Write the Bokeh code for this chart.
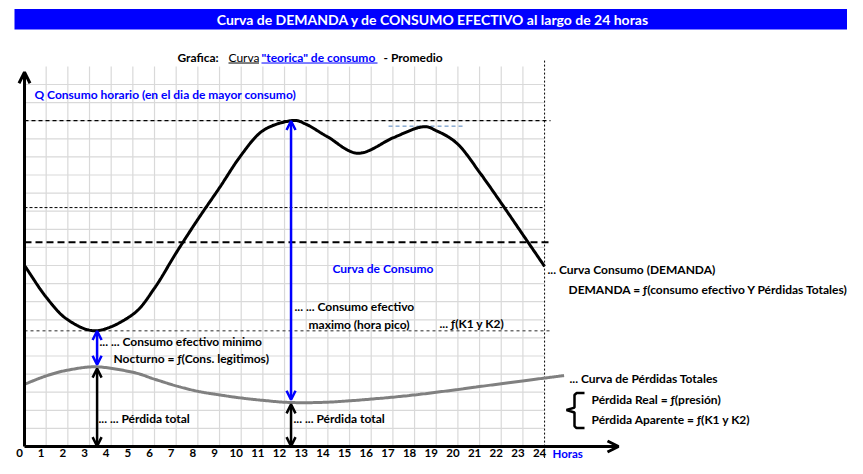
import numpy as np
from bokeh.plotting import figure
from bokeh.models import Arrow, OpenHead
from bokeh.core.properties import value
from bokeh.embed import file_html
from bokeh.resources import INLINE

# ---------------- data ----------------
HOURS_DEM = [0, 1, 2, 3.35, 5, 6, 7, 8, 9, 10, 11, 12.3, 13, 14, 15.4, 17, 18.3, 19, 20, 21, 22, 23, 24]
Q_DEM = [10.0, 8.25, 7.0, 6.4, 7.3, 8.75, 10.7, 12.55, 14.3, 16.1, 17.45, 18.0, 17.8, 17.1, 16.2,
         17.05, 17.65, 17.45, 16.7, 15.15, 13.45, 11.7, 9.95]
HOURS_LOSS = [0, 1, 2, 3.35, 5, 6, 7, 8, 9, 10, 11, 12.3, 14, 16, 18, 20, 22, 24, 24.9]
Q_LOSS = [3.44, 3.9, 4.22, 4.4, 4.1, 3.72, 3.35, 3.05, 2.85, 2.68, 2.55, 2.43, 2.45, 2.62, 2.85,
          3.15, 3.47, 3.78, 3.92]
TICK_HOURS = list(range(25))
TICK_LABELS = [str(h) for h in TICK_HOURS]
NIGHT_HOUR = 3.35
PEAK_HOUR = 12.3
LEVEL_K = 13.2
LEVEL_MID = 11.28
PEAK2_SPAN = [16.8, 20.26]
PEAK2_LEVEL = 17.7

# ---------------- layout ----------------
W, H = 847, 458
PXH = 21.67          # px per hour
PXQ = 18.1           # px per Q unit
X0 = 24              # canvas px of hour 0
Y0 = 446             # canvas px (from top) of Q = 0


def RX(px):   # reference x -> hours
    return (px - 24) / 21.67


def RY(py):   # reference y -> Q units
    return (457 - py) / 18.62


p = figure(width=W, height=H, output_backend="svg", toolbar_location=None,
           x_range=(-X0 / PXH, (W - X0) / PXH), y_range=(-(H - Y0) / PXQ, Y0 / PXQ),
           x_axis_type=None, y_axis_type=None, min_border=0)
p.grid.visible = False
p.outline_line_color = None
p.background_fill_color = "white"
p.border_fill_color = "white"

FONT = value("Lato")
BLUE = "#0000FF"
FS = "12px"

# grid
gx = np.arange(1, 24)
p.segment(x0=gx, y0=0, x1=gx, y1=21, line_color="#d9d9d9", line_width=1.2)
gy = np.arange(1, 21)
p.segment(x0=0, y0=gy, x1=24, y1=gy, line_color="#d9d9d9", line_width=1.2)

# title bar
p.quad(left=RX(14), right=RX(851), bottom=RY(28), top=RY(7), fill_color=BLUE, line_color=None)
p.text(x=[RX(432.5)], y=[RY(17.5)], text=["Curva de DEMANDA y de CONSUMO EFECTIVO al largo de 24 horas"],
       text_font=FONT, text_font_style="bold", text_font_size="14px", text_color="white",
       text_align="center", text_baseline="middle")

# subtitle pieces
sub_y = RY(57)
SFS = "12px"
p.text(x=[RX(177)], y=[sub_y], text=["Grafica:"], text_font=FONT, text_font_style="bold",
       text_font_size=SFS, text_color="black", text_baseline="middle")
p.text(x=[RX(228)], y=[sub_y], text=["Curva"], text_font=FONT, text_font_style="normal",
       text_font_size=SFS, text_color="black", text_baseline="middle")
p.text(x=[RX(261)], y=[sub_y], text=['"teorica" de consumo'], text_font=FONT, text_font_style="bold",
       text_font_size=SFS, text_color=BLUE, text_baseline="middle")
p.text(x=[RX(383)], y=[sub_y], text=["- Promedio"], text_font=FONT, text_font_style="bold",
       text_font_size=SFS, text_color="black", text_baseline="middle")
p.segment(x0=[RX(228)], y0=[RY(62.5)], x1=[RX(258.5)], y1=[RY(62.5)], line_color="black", line_width=1)
p.segment(x0=[RX(261)], y0=[RY(62.5)], x1=[RX(377)], y1=[RY(62.5)], line_color=BLUE, line_width=1)


def smooth(xs, ys, per=24):
    xs = np.asarray(xs, float)
    ys = np.asarray(ys, float)
    n = len(xs)
    px = np.concatenate([[2 * xs[0] - xs[1]], xs, [2 * xs[-1] - xs[-2]]])
    py = np.concatenate([[2 * ys[0] - ys[1]], ys, [2 * ys[-1] - ys[-2]]])
    outx, outy = [], []
    t = np.linspace(0, 1, per, endpoint=False)
    for i in range(n - 1):
        p0x, p0y = px[i + 1], py[i + 1]
        p3x, p3y = px[i + 2], py[i + 2]
        c1x = p0x + (px[i + 2] - px[i]) / 6
        c1y = p0y + (py[i + 2] - py[i]) / 6
        c2x = p3x - (px[i + 3] - px[i + 1]) / 6
        c2y = p3y - (py[i + 3] - py[i + 1]) / 6
        b0, b1, b2, b3 = (1 - t) ** 3, 3 * (1 - t) ** 2 * t, 3 * (1 - t) * t ** 2, t ** 3
        outx.extend(b0 * p0x + b1 * c1x + b2 * c2x + b3 * p3x)
        outy.extend(b0 * p0y + b1 * c1y + b2 * c2y + b3 * p3y)
    outx.append(xs[-1])
    outy.append(ys[-1])
    return outx, outy


peak_q = max(Q_DEM)
night_q = min(Q_DEM)
loss_peak_hour = np.interp(PEAK_HOUR, HOURS_LOSS, Q_LOSS)
loss_night_hour = np.interp(NIGHT_HOUR, HOURS_LOSS, Q_LOSS)

# reference dashed lines
p.line([0, RX(550)], [peak_q, peak_q], line_color="black", line_width=1.3, line_dash="4 3")
p.line([0, 24], [LEVEL_K, LEVEL_K], line_color="black", line_width=1, line_dash="3 2")
p.line([0, RX(550)], [LEVEL_MID, LEVEL_MID], line_color="black", line_width=2, line_dash="7 4")
p.line([0, RX(550)], [night_q, night_q], line_color="#707070", line_width=1.5, line_dash="3 3")
p.line(PEAK2_SPAN, [PEAK2_LEVEL, PEAK2_LEVEL], line_color="#4f81bd", line_width=1, line_dash="4 3")
p.line([24, 24], [RY(60), -2], line_color="black", line_width=1, line_dash="2 2")

# curves
lx, ly = smooth(HOURS_LOSS, Q_LOSS)
p.line(lx, ly, line_color="#808080", line_width=3)
dx, dy = smooth(HOURS_DEM, Q_DEM)
p.line(dx, dy, line_color="black", line_width=3)

# axes
p.add_layout(Arrow(x_start=0, y_start=0, x_end=RX(618), y_end=0, line_width=3, line_color="black",
                   end=OpenHead(size=11, line_width=3, line_color="black")))
p.add_layout(Arrow(x_start=0, y_start=0, x_end=0, y_end=RY(72), line_width=3, line_color="black",
                   end=OpenHead(size=11, line_width=3, line_color="black")))


def darrow(x, y0, y1, color):
    p.add_layout(Arrow(x_start=x, y_start=y0, x_end=x, y_end=y1, line_width=2.5, line_color=color,
                       start=OpenHead(size=9, line_width=2.5, line_color=color),
                       end=OpenHead(size=9, line_width=2.5, line_color=color)))


darrow(NIGHT_HOUR, night_q - 0.02, loss_night_hour + 0.12, BLUE)
darrow(NIGHT_HOUR, loss_night_hour - 0.1, 0.02, "black")
darrow(PEAK_HOUR, peak_q - 0.02, loss_peak_hour + 0.15, BLUE)
darrow(PEAK_HOUR, loss_peak_hour - 0.1, 0.02, "black")

# tick labels
tick_y = -6.5 / PXQ
p.text(x=TICK_HOURS, y=[tick_y] * len(TICK_HOURS), text=TICK_LABELS, x_offset=-5,
       text_font=FONT, text_font_style="bold", text_font_size="11.5px", text_color="black",
       text_align="center", text_baseline="middle")
p.text(x=[RX(552)], y=[tick_y], text=["Horas"], text_font=FONT, text_font_style="bold",
       text_font_size="11.5px", text_color=BLUE, text_baseline="middle")

# annotations (left x, center y in reference pixels)
ANN = [
    ("Q Consumo horario (en el dia de mayor consumo)", 34, 95, BLUE),
    ("Curva de Consumo", 332, 274, BLUE),
    ("... Curva Consumo (DEMANDA)", 547, 275, "black"),
    ("DEMANDA = \u0192(consumo efectivo Y P\u00e9rdidas Totales)", 568, 295, "black"),
    ("... ... Consumo efectivo", 294, 313, "black"),
    ("maximo (hora pico)", 308, 331.5, "black"),
    ("... \u0192(K1 y K2)", 439, 330.5, "black"),
    ("... ... Consumo efectivo minimo", 99, 349, "black"),
    ("Nocturno = \u0192(Cons. legitimos)", 113, 366, "black"),
    ("... Curva de P\u00e9rdidas Totales", 569, 387.5, "black"),
    ("P\u00e9rdida Real = \u0192(presi\u00f3n)", 591, 409, "black"),
    ("P\u00e9rdida Aparente = \u0192(K1 y K2)", 591, 429, "black"),
    ("... ... P\u00e9rdida total", 98, 428.5, "black"),
    ("... ... P\u00e9rdida total", 293, 428.5, "black"),
]
p.text(x=[RX(a[1]) for a in ANN], y=[RY(a[2]) for a in ANN], text=[a[0] for a in ANN],
       text_color=[a[3] for a in ANN], text_font=FONT, text_font_style="bold",
       text_font_size=FS, text_align="left", text_baseline="middle")

# brace
bx = [RX(584), RX(576), RX(574), RX(574), RX(566), RX(574), RX(574), RX(576), RX(584)]
by = [RY(402), RY(402), RY(404), RY(417), RY(419.5), RY(422), RY(436), RY(438), RY(438)]
p.line(bx, by, line_color="black", line_width=2.5)

open("out.html", "w").write(file_html(p, INLINE))
